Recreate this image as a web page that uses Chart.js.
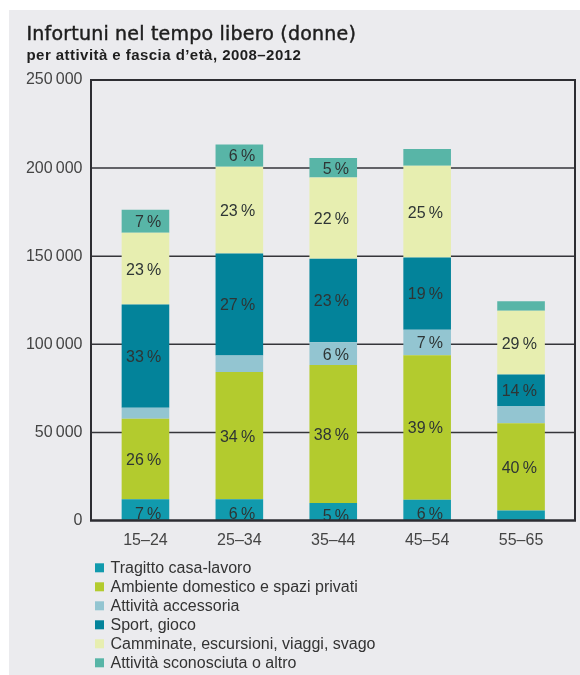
<!DOCTYPE html>
<html lang="it">
<head>
<meta charset="utf-8">
<title>Infortuni nel tempo libero (donne)</title>
<script src="https://cdn.jsdelivr.net/npm/chart.js@4/dist/chart.umd.min.js"></script>
<style>
  html, body { margin: 0; padding: 0; background: #ffffff; }
  #chart { display: block; }
</style>
</head>
<body>
<canvas id="chart" width="580" height="675"></canvas>
<script>
// Age groups (x axis)
const ageGroups = ['15–24', '25–34', '35–44', '45–54', '55–65'];

// Accidents per activity, women, 2008–2012 (stack order: bottom to top)
const tragitto   = [12000, 12000, 10000, 11800,  5700];
const ambiente   = [45800, 72300, 78300, 82000, 49500];
const accessoria = [ 6200,  9300, 12800, 14500,  9800];
const sport      = [58600, 58000, 47500, 41000, 17800];
const camminate  = [40700, 49200, 46000, 52000, 36200];
const altro      = [13000, 12600, 11200,  9500,  5500];

// Segments that carry a percentage label (1 = labelled)
const tragittoLabelled   = [1, 1, 1, 1, 0];
const ambienteLabelled   = [1, 1, 1, 1, 1];
const accessoriaLabelled = [0, 0, 1, 1, 0];
const sportLabelled      = [1, 1, 1, 1, 1];
const camminateLabelled  = [1, 1, 1, 1, 1];
const altroLabelled      = [1, 1, 1, 0, 0];

// Y axis ticks
const yTicks = [0, 50000, 100000, 150000, 200000, 250000];

const seriesNames = [
  'Tragitto casa-lavoro',
  'Ambiente domestico e spazi privati',
  'Attività accessoria',
  'Sport, gioco',
  'Camminate, escursioni, viaggi, svago',
  'Attività sconosciuta o altro'
];
const seriesData = [tragitto, ambiente, accessoria, sport, camminate, altro];
const seriesLabelled = [tragittoLabelled, ambienteLabelled, accessoriaLabelled,
                        sportLabelled, camminateLabelled, altroLabelled];
const seriesColors = ['#119aad', '#b3cb2e', '#93c5d1', '#03839a', '#e7eeb0', '#58b5a7'];

const totals = ageGroups.map((_, i) => seriesData.reduce((s, d) => s + d[i], 0));

const fmtThousands = v => {
  const s = String(v);
  return s.length > 3 ? s.slice(0, -3) + '\u2009' + s.slice(-3) : s;
};

const FRAME = { left: 91, right: 575 };
const TEXT_FONT = '"Liberation Sans", Arial, sans-serif';

const setSpacing = (ctx, px) => { if ('letterSpacing' in ctx) ctx.letterSpacing = px; };

const decorPlugin = {
  id: 'decor',
  beforeDraw(chart) {
    const ctx = chart.ctx;
    ctx.save();
    ctx.fillStyle = '#ffffff';
    ctx.fillRect(0, 0, chart.width, chart.height);
    ctx.fillStyle = '#ebebee';
    ctx.fillRect(9, 10, chart.width - 9, chart.height - 10);

    // Title (medium weight) and subtitle
    ctx.fillStyle = '#1e1e1e';
    ctx.strokeStyle = '#1e1e1e';
    ctx.textAlign = 'left';
    ctx.textBaseline = 'alphabetic';
    ctx.font = '19px "DejaVu Sans", sans-serif';
    setSpacing(ctx, '0.2px');
    ctx.lineWidth = 0.45;
    ctx.fillText('Infortuni nel tempo libero (donne)', 26.5, 39.5);
    ctx.strokeText('Infortuni nel tempo libero (donne)', 26.5, 39.5);
    ctx.font = 'bold 15px ' + TEXT_FONT;
    setSpacing(ctx, '0.45px');
    ctx.fillText('per attività e fascia d’età, 2008–2012', 26.5, 60);
    setSpacing(ctx, '0px');
    ctx.restore();
  },
  beforeDatasetsDraw(chart) {
    // Horizontal grid lines spanning the framed area
    const ctx = chart.ctx;
    const y = chart.scales.y;
    ctx.save();
    ctx.strokeStyle = '#35353a';
    ctx.lineWidth = 1.5;
    y.ticks.forEach(t => {
      if (t.value <= y.min || t.value >= y.max) return;
      const py = y.getPixelForValue(t.value);
      ctx.beginPath();
      ctx.moveTo(FRAME.left, py);
      ctx.lineTo(FRAME.right, py);
      ctx.stroke();
    });
    ctx.restore();
  },
  afterDatasetsDraw(chart) {
    const ctx = chart.ctx;
    const y = chart.scales.y;
    const top = y.getPixelForValue(y.max);
    const bottom = y.getPixelForValue(0);
    ctx.save();

    // Percentage labels inside the segments
    ctx.font = '16px ' + TEXT_FONT;
    ctx.fillStyle = '#2e3535';
    ctx.textAlign = 'right';
    ctx.textBaseline = 'middle';
    chart.data.datasets.forEach((ds, di) => {
      const meta = chart.getDatasetMeta(di);
      meta.data.forEach((bar, i) => {
        if (!seriesLabelled[di][i]) return;
        const pct = Math.round(ds.data[i] / totals[i] * 100);
        const cy = (bar.y + bar.base) / 2 + (di === 0 ? 3 : 0);
        ctx.fillText(pct + '\u2009%', bar.x + bar.width / 2 - 8, cy + 1.5);
      });
    });

    // Frame
    ctx.strokeStyle = '#2d2d32';
    ctx.lineWidth = 2;
    ctx.beginPath();
    ctx.moveTo(FRAME.left, bottom);
    ctx.lineTo(FRAME.left, top);
    ctx.lineTo(FRAME.right, top);
    ctx.lineTo(FRAME.right, bottom);
    ctx.stroke();
    ctx.lineWidth = 2.5;
    ctx.beginPath();
    ctx.moveTo(FRAME.left - 1, bottom);
    ctx.lineTo(FRAME.right + 1, bottom);
    ctx.stroke();
    ctx.restore();
  },
  afterDraw(chart) {
    // Legend, one entry per row
    const ctx = chart.ctx;
    ctx.save();
    ctx.font = '16px ' + TEXT_FONT;
    ctx.textAlign = 'left';
    ctx.textBaseline = 'alphabetic';
    chart.data.datasets.forEach((ds, di) => {
      const base = 573.3 + di * 19;
      ctx.fillStyle = ds.backgroundColor;
      ctx.fillRect(95, base - 10, 9, 9);
      ctx.fillStyle = '#333333';
      ctx.fillText(ds.label, 110.5, base);
    });
    ctx.restore();
  }
};

new Chart(document.getElementById('chart'), {
  type: 'bar',
  data: {
    labels: ageGroups,
    datasets: seriesNames.map((name, k) => ({
      label: name,
      data: seriesData[k],
      backgroundColor: seriesColors[k],
      borderWidth: 0,
      categoryPercentage: 1,
      barPercentage: 0.507
    }))
  },
  options: {
    responsive: false,
    animation: false,
    devicePixelRatio: 1,
    layout: { padding: { top: 80, left: 0, right: 12, bottom: 114.5 } },
    plugins: {
      legend: { display: false },
      title: { display: false },
      tooltip: { enabled: false }
    },
    scales: {
      x: {
        stacked: true,
        grid: { display: false, drawTicks: false },
        border: { display: false },
        ticks: {
          color: '#444444',
          font: { family: TEXT_FONT, size: 16 },
          padding: 10
        },
        afterFit(scale) { scale.height = 40; }
      },
      y: {
        stacked: true,
        min: 0,
        max: 250000,
        grid: { display: false, drawTicks: false },
        border: { display: false },
        afterBuildTicks(scale) { scale.ticks = yTicks.map(v => ({ value: v })); },
        ticks: {
          color: '#444444',
          font: { family: TEXT_FONT, size: 16 },
          padding: 16,
          callback: v => fmtThousands(v)
        },
        afterFit(scale) { scale.width = 98.5; }
      }
    }
  },
  plugins: [decorPlugin]
});
</script>
</body>
</html>
